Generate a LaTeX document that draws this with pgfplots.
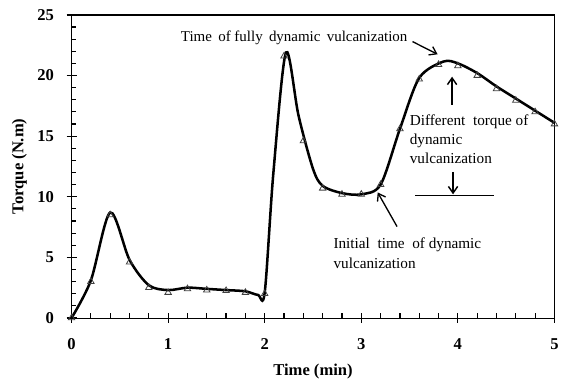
\documentclass[border=0pt]{standalone}
\usepackage{fontspec}
\setmainfont{Liberation Serif}
\usepackage{pgfplots}
\pgfplotsset{compat=1.18}
\usetikzlibrary{arrows.meta}
\begin{document}
\begin{tikzpicture}
\begin{axis}[
  scale only axis,
  width=364.5pt, height=228.75pt,
  xmin=0, xmax=5, ymin=0, ymax=25,
  xtick={0,1,2,3,4,5}, ytick={0,5,10,15,20,25},
  minor x tick num=4, minor y tick num=4,
  xtick pos=left, ytick pos=left,
  tick align=center,
  major tick length=7.5pt,
  minor tick length=3.5pt,
  minor x tick style={yshift=1.75pt},
  minor y tick style={xshift=1.75pt},
  tick style={black, line width=0.9pt},
  /pgf/number format/assume math mode=true,
  ticklabel style={font=\fontsize{12.5}{14}\selectfont\bfseries},
  xticklabel style={yshift=-8pt},
  yticklabel style={xshift=-6pt},
  xlabel={Time (min)}, ylabel={Torque (N.m)},
  label style={font=\fontsize{12.5}{14}\selectfont\bfseries},
  xlabel style={yshift=-4.5pt},
  ylabel style={yshift=1pt},
  clip=false,
]
\addplot[black, line width=1pt, no marks] coordinates {(0,25) (5,25) (5,0)};
\addplot[only marks, mark=triangle, mark size=2.8pt, mark options={draw=black!75, line width=0.6pt}] coordinates {
(0,0) (0.2,3.0) (0.4,8.5) (0.6,4.6) (0.8,2.5) (1.0,2.1) (1.2,2.4) (1.4,2.3)
(1.6,2.25) (1.8,2.1) (2.0,2.0) (2.2,21.6) (2.4,14.6) (2.6,10.7) (2.8,10.2)
(3.0,10.2) (3.2,11.0) (3.4,15.6) (3.6,19.7) (3.8,20.9) (4.0,20.8) (4.2,20.0)
(4.4,18.9) (4.6,17.95) (4.8,17.0) (5.0,16.0)
};
\addplot[black, line width=1.9pt, smooth, no marks] coordinates {
(0,0) (0.2,3.1) (0.4,8.7) (0.6,4.8) (0.8,2.7) (1.0,2.3) (1.2,2.5) (1.4,2.4)
(1.6,2.3) (1.8,2.2) (1.93,1.9) (2.0,2.1) (2.09,12) (2.22,21.9) (2.35,16.7) (2.5,12.3) (2.6,10.9)
(2.8,10.3) (3.0,10.2) (3.2,11.0) (3.4,15.6) (3.6,19.8) (3.85,21.15) (4.0,21.0)
(4.2,20.2) (4.4,19.1) (4.6,18.1) (4.8,17.1) (5.0,16.1)
};
% annotations
\node[anchor=west, inner sep=0pt, font=\fontsize{11.3}{14}\selectfont] at (axis cs:1.13,23.1) {Time\ \,of fully\ \,dynamic\ \,vulcanization};
\draw[line width=1pt, -{Straight Barb[length=5pt,width=7pt]}] (axis cs:3.53,22.8) -- (axis cs:3.79,21.75);
\draw[line width=1.1pt, -{Straight Barb[length=5pt,width=7pt]}] (axis cs:3.94,17.6) -- (axis cs:3.94,19.9);
\node[anchor=north west, inner sep=0pt, align=left, font=\fontsize{11.5}{14.25}\selectfont] at (axis cs:3.50,16.75) {Different\ \ torque\ of\\dynamic\\vulcanization};
\draw[line width=1.1pt, -{Straight Barb[length=5pt,width=7pt]}] (axis cs:3.95,12.05) -- (axis cs:3.95,10.2);
\draw[line width=1.1pt] (axis cs:3.56,10.1) -- (axis cs:4.37,10.1);
\draw[line width=1pt, -{Straight Barb[length=5pt,width=7pt]}] (axis cs:3.37,7.54) -- (axis cs:3.17,10.35);
\node[anchor=north west, inner sep=0pt, align=left, font=\fontsize{11.5}{15}\selectfont] at (axis cs:2.71,6.65) {Initial\ \ time\ \ of dynamic\\vulcanization};
% page extent
\path (axis cs:-0.741,-5.33) rectangle (axis cs:5.06,26.23);
\end{axis}
\end{tikzpicture}
\end{document}
